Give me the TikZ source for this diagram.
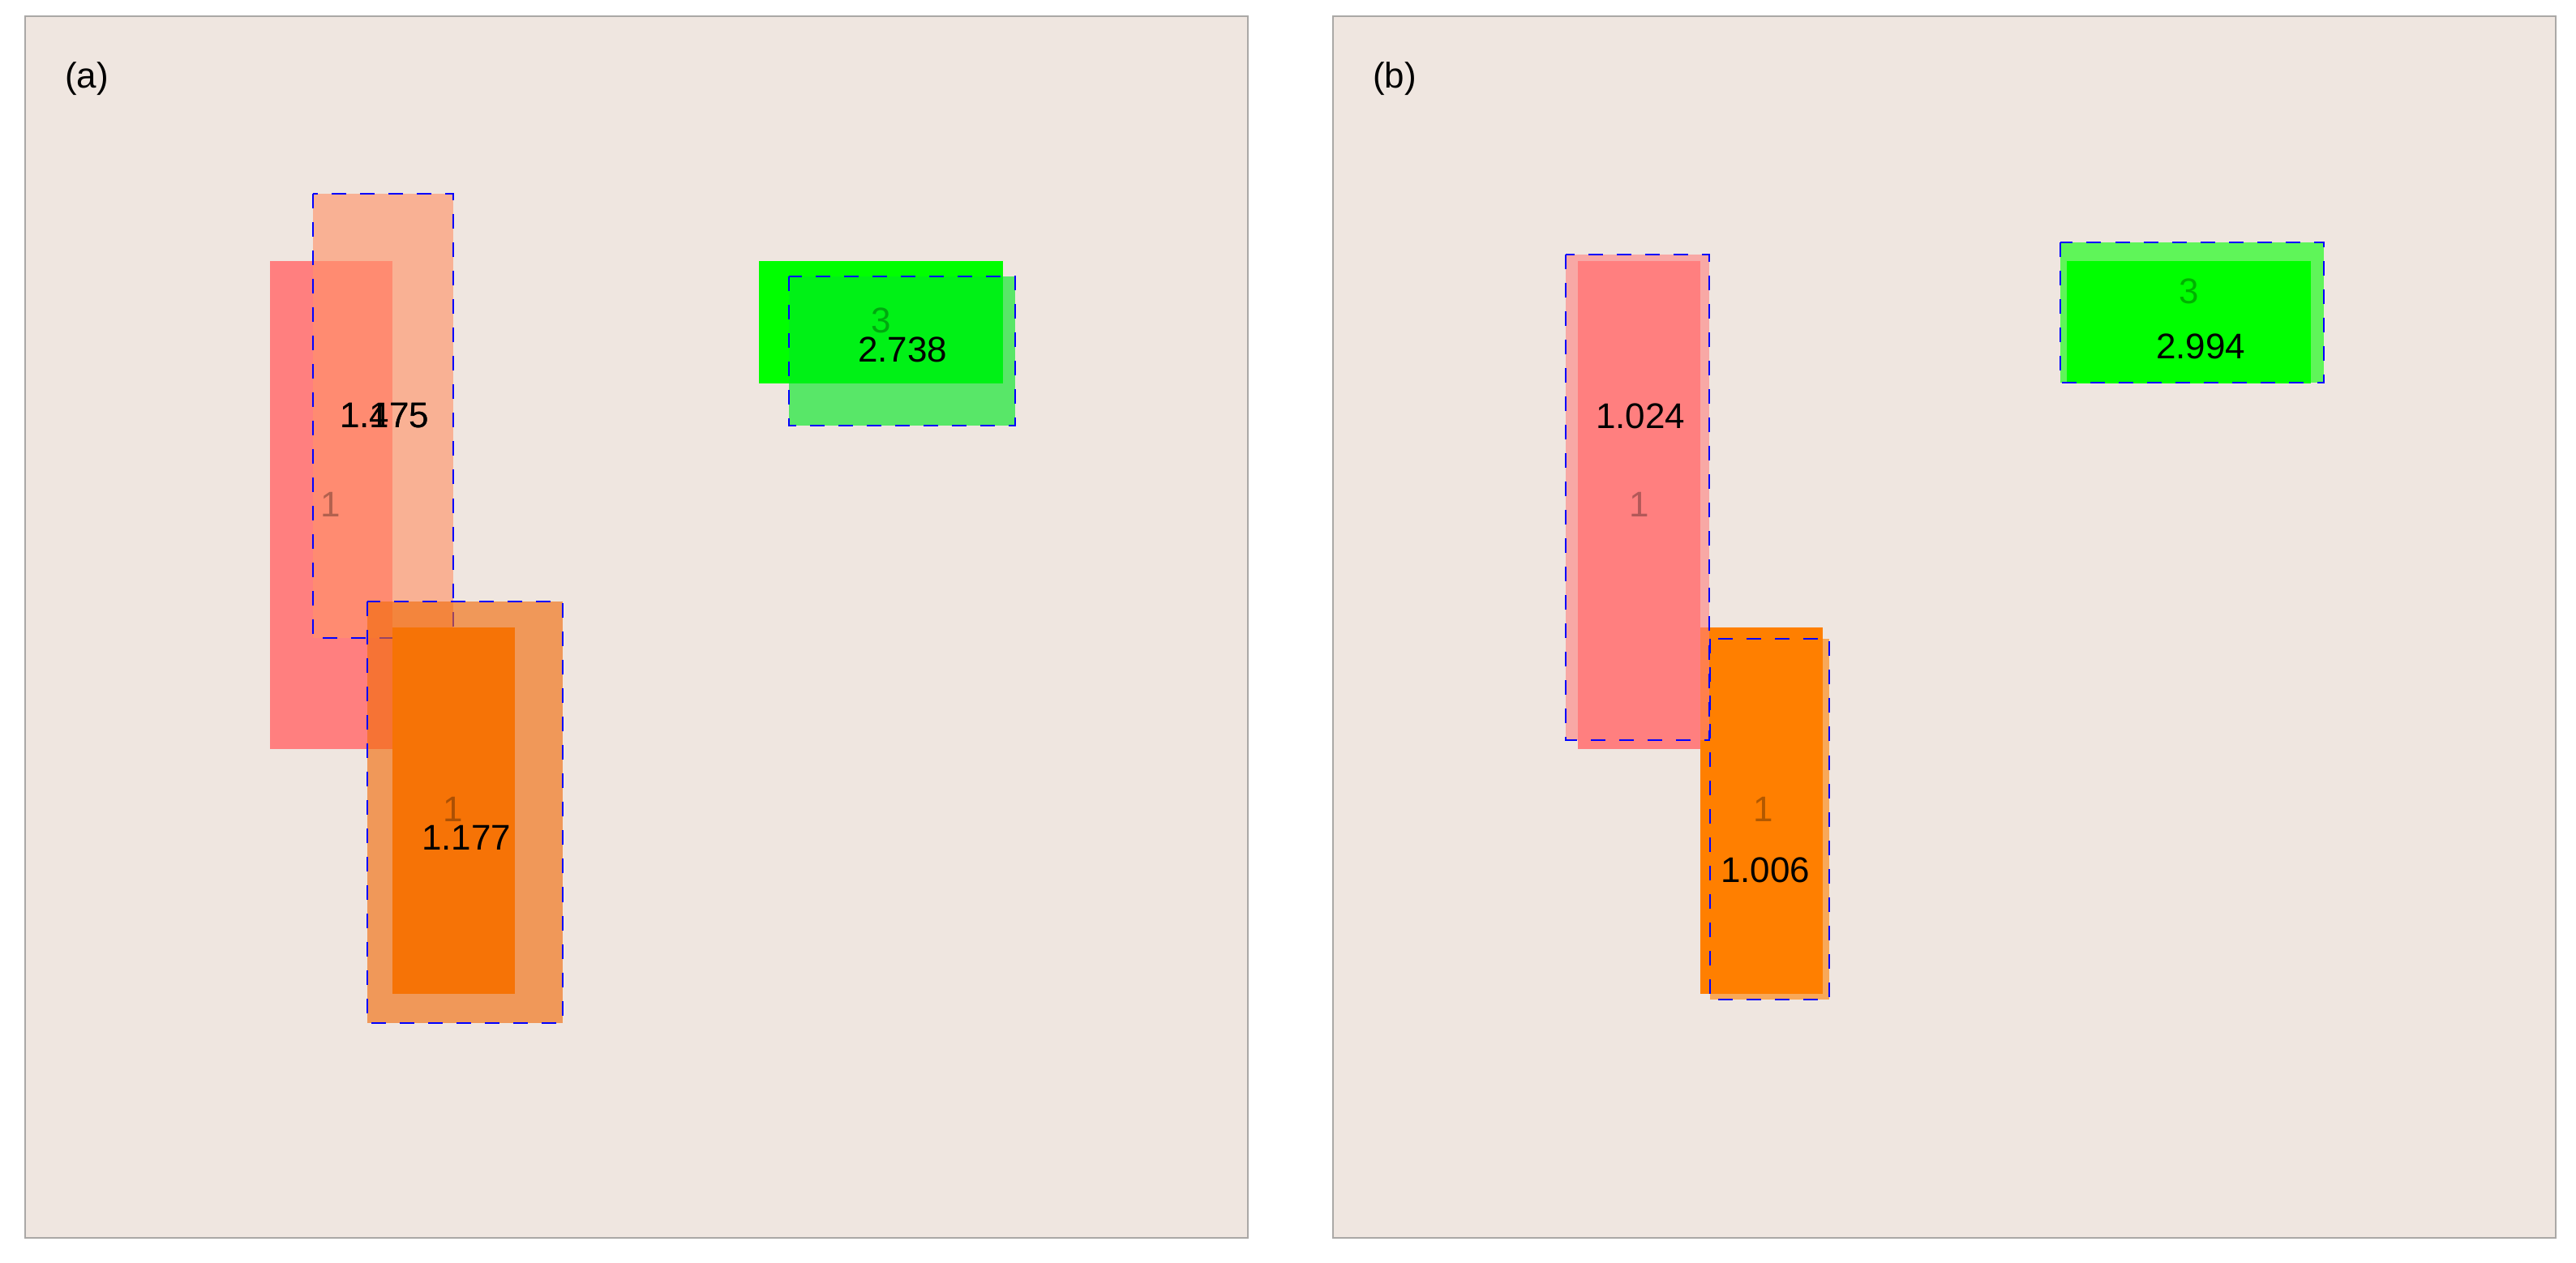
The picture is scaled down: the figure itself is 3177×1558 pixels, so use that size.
\documentclass[tikz,border=0pt]{standalone}
\usepackage{fontspec}
\setmainfont{Liberation Sans}
\definecolor{bgc}{RGB}{239,230,224}
\definecolor{pinkc}{RGB}{255,127,127}
\definecolor{orangec}{RGB}{255,127,0}
\definecolor{greenc}{RGB}{0,255,0}
\definecolor{salmonpred}{RGB}{255,147,105}
\definecolor{orangepred}{RGB}{241,108,11}
\definecolor{greenpred}{RGB}{0,233,35}
\definecolor{bordergray}{RGB}{170,168,166}
\begin{document}
\begin{tikzpicture}[x=0.01cm,y=-0.01cm,
  gtbox/.style={fill=#1},
  predbox/.style={fill=#1, fill opacity=0.63, draw=blue, line width=0.6pt, dash pattern=on 0.18cm off 0.17cm},
  predboxb/.style={predbox=#1, fill opacity=0.6},
  txt/.style={inner sep=0pt, anchor=center, font=\fontsize{12.5}{15}\selectfont},
  cls/.style={txt, text=black, text opacity=0.3},
  score/.style={txt, text=black},
  panel/.style={fill=bgc, draw=bordergray, line width=0.57pt}]
\useasboundingbox (0,0) rectangle (3177,1558);
\fill[white] (0,0) rectangle (3177,1558);
% panels
\path[panel] (31,20) rectangle (1539,1527);
\path[panel] (1644,20) rectangle (3152,1527);
\node[txt] (la) at (107,97) {(a)};
\node[txt] (lb) at (1720,97) {(b)};
% ---------- panel (a) ----------
\path[gtbox=pinkc] (333,322) rectangle (484,924);
\path[predbox=salmonpred] (386,239) rectangle (559,787);
\path[gtbox=orangec] (484,774) rectangle (635,1226);
\path[predbox=orangepred] (453,742) rectangle (694,1262);
\path[gtbox=greenc] (936,322) rectangle (1237,473);
\path[predbox=greenpred] (973,341) rectangle (1252,525);
\node[cls] (a1) at (408,622) {1};
\node[cls] (a2) at (559,998) {1};
\node[cls] (a3) at (1087,395) {3};
\node[score] (as1) at (474,513) {1.475};
\node[score] (as1b) at (474,513) {1.175};
\node[score] (as2) at (575,1033) {1.177};
\node[score] (as3) at (1113,431) {2.738};
% ---------- panel (b) ----------
\path[gtbox=pinkc] (1946,322) rectangle (2097,924);
\path[gtbox=orangec] (2097,774) rectangle (2248,1226);
\path[predboxb=pinkc] (1931,314) rectangle (2108,913);
\path[predboxb=orangec] (2109,788) rectangle (2256,1233);
\path[gtbox=greenc] (2549,322) rectangle (2850,473);
\path[predboxb=greenc] (2541,299) rectangle (2866,472);
\node[cls] (b1) at (2022,622) {1};
\node[cls] (b2) at (2175,998) {1};
\node[cls] (b3) at (2700,359) {3};
\node[score] (bs1) at (2023,513) {1.024};
\node[score] (bs2) at (2177,1073) {1.006};
\node[score] (bs3) at (2714,427) {2.994};
\end{tikzpicture}
\end{document}
